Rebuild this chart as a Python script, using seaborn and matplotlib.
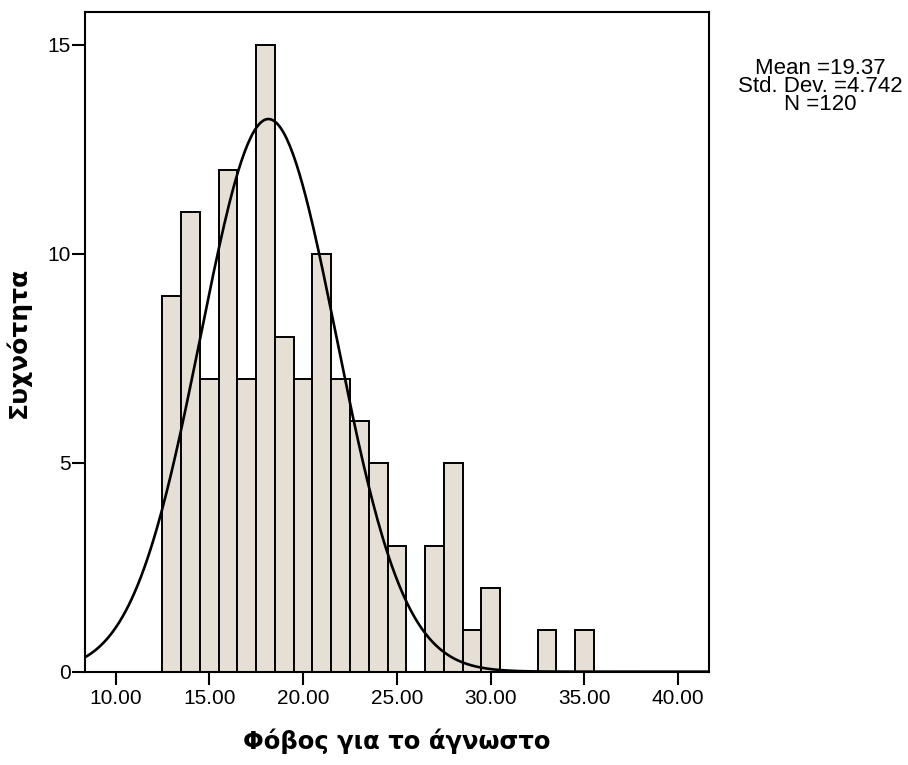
import numpy as np
import pandas as pd
import seaborn as sns
import matplotlib.pyplot as plt

# histogram counts (bin width 1, centres 13..35)
bin_centers = [13, 14, 15, 16, 17, 18, 19, 20, 21, 22, 23, 24,
               25, 26, 27, 28, 29, 30, 31, 32, 33, 34, 35]
counts = [9, 11, 7, 12, 7, 15, 8, 7, 10, 7, 6, 5,
          3, 0, 3, 5, 1, 2, 0, 0, 1, 0, 1]

# normal curve as it is drawn in the picture
curve_mean = 18.15
curve_sd = 3.62
curve_n = 120

x_ticks = [10, 15, 20, 25, 30, 35, 40]
y_ticks = [0, 5, 10, 15]
stats_text = "Mean =19.37\nStd. Dev. =4.742\nN =120"

df = pd.DataFrame({"score": bin_centers, "count": counts})

sns.set_theme(style="white")
plt.rcParams["font.family"] = ["Liberation Sans", "DejaVu Sans"]
plt.rcParams["text.color"] = "black"
plt.rcParams["axes.labelcolor"] = "black"

fig = plt.figure(figsize=(9.08, 7.65), dpi=100)
ax = fig.add_axes([0.0936, 0.122, 0.6876, 0.862])

sns.histplot(
    data=df,
    x="score",
    weights="count",
    binwidth=1,
    binrange=(12.5, 35.5),
    color="#e6dfd6",
    edgecolor="black",
    linewidth=1.4,
    alpha=1,
    ax=ax,
)

xs = np.linspace(8.37, 41.66, 400)
ys = curve_n / (curve_sd * np.sqrt(2 * np.pi)) * np.exp(-0.5 * ((xs - curve_mean) / curve_sd) ** 2)
sns.lineplot(x=xs, y=ys, color="black", linewidth=1.9, ax=ax)

ax.set_xlim(8.37, 41.66)
ax.set_ylim(0, 15.78)
ax.set_xticks(x_ticks)
ax.set_xticklabels([f"{t:.2f}" for t in x_ticks], fontsize=15)
ax.set_yticks(y_ticks)
ax.set_yticklabels([str(t) for t in y_ticks], fontsize=15)
ax.tick_params(axis="both", direction="out", length=9.5, width=1.5,
               color="black", labelcolor="black", bottom=True, left=True, pad=1)
ax.tick_params(axis="x", pad=3)

for s in ax.spines.values():
    s.set_color("black")
    s.set_linewidth(1.5)

ax.set_xlabel("Φόβος για το άγνωστο", fontsize=17.5, fontweight="bold",
              family="DejaVu Sans", color="black", labelpad=15)
ax.set_ylabel("Συχνότητα", fontsize=18, fontweight="bold",
              family="DejaVu Sans", color="black", labelpad=12)

fig.text(0.903, 0.887, stats_text, ha="center", va="center",
         fontsize=16, linespacing=0.82, color="black")

fig.savefig("out.png", dpi=100)
